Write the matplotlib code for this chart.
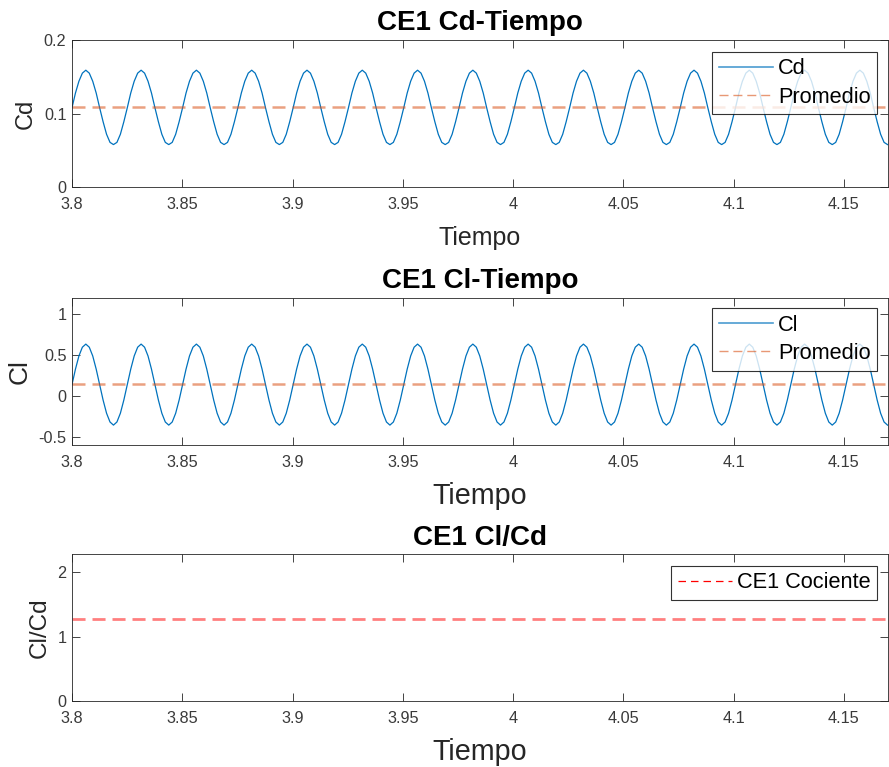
import numpy as np
import matplotlib
matplotlib.use("Agg")
import matplotlib.pyplot as plt
from matplotlib.lines import Line2D

plt.rcParams['font.family'] = ['Liberation Sans', 'DejaVu Sans']

# ---------------- data ----------------
t_start = 3.8
sample_step = 0.0015669          # 16 samples per oscillation period (~0.02507 s)

# Cd samples, one row per oscillation cycle
cd_values = [
    0.108, 0.128, 0.144, 0.155, 0.159, 0.155, 0.144, 0.128, 0.108, 0.089, 0.072, 0.061, 0.058, 0.061, 0.072, 0.089,
    0.108, 0.128, 0.144, 0.155, 0.159, 0.155, 0.144, 0.128, 0.108, 0.089, 0.072, 0.061, 0.058, 0.061, 0.072, 0.089,
    0.108, 0.128, 0.144, 0.155, 0.159, 0.155, 0.144, 0.128, 0.108, 0.089, 0.072, 0.061, 0.058, 0.061, 0.072, 0.089,
    0.108, 0.128, 0.144, 0.155, 0.159, 0.155, 0.144, 0.128, 0.108, 0.089, 0.072, 0.061, 0.058, 0.061, 0.072, 0.089,
    0.108, 0.128, 0.144, 0.155, 0.159, 0.155, 0.144, 0.128, 0.108, 0.089, 0.072, 0.061, 0.058, 0.061, 0.072, 0.089,
    0.108, 0.128, 0.144, 0.155, 0.159, 0.155, 0.144, 0.128, 0.108, 0.089, 0.072, 0.061, 0.058, 0.061, 0.072, 0.089,
    0.108, 0.128, 0.144, 0.155, 0.159, 0.155, 0.144, 0.128, 0.108, 0.089, 0.072, 0.061, 0.058, 0.061, 0.072, 0.089,
    0.108, 0.128, 0.144, 0.155, 0.159, 0.155, 0.144, 0.128, 0.108, 0.089, 0.072, 0.061, 0.058, 0.061, 0.072, 0.089,
    0.108, 0.128, 0.144, 0.155, 0.159, 0.155, 0.144, 0.128, 0.108, 0.089, 0.072, 0.061, 0.058, 0.061, 0.072, 0.089,
    0.108, 0.128, 0.144, 0.155, 0.159, 0.155, 0.144, 0.128, 0.108, 0.089, 0.072, 0.061, 0.058, 0.061, 0.072, 0.089,
    0.108, 0.128, 0.144, 0.155, 0.159, 0.155, 0.144, 0.128, 0.108, 0.089, 0.072, 0.061, 0.058, 0.061, 0.072, 0.089,
    0.108, 0.128, 0.144, 0.155, 0.159, 0.155, 0.144, 0.128, 0.108, 0.089, 0.072, 0.061, 0.058, 0.061, 0.072, 0.089,
    0.108, 0.128, 0.144, 0.155, 0.159, 0.155, 0.144, 0.128, 0.108, 0.089, 0.072, 0.061, 0.058, 0.061, 0.072, 0.089,
    0.108, 0.128, 0.144, 0.155, 0.159, 0.155, 0.144, 0.128, 0.108, 0.089, 0.072, 0.061, 0.058, 0.061, 0.072, 0.089,
    0.108, 0.128, 0.144, 0.155, 0.159, 0.155, 0.144, 0.128, 0.108, 0.089, 0.072, 0.061, 0.058,
]

# Cl samples, one row per oscillation cycle
cl_values = [
    0.138, 0.327, 0.488, 0.595, 0.633, 0.595, 0.488, 0.327, 0.138, -0.051, -0.212, -0.319, -0.357, -0.319, -0.212, -0.051,
    0.138, 0.327, 0.488, 0.595, 0.633, 0.595, 0.488, 0.327, 0.138, -0.051, -0.212, -0.319, -0.357, -0.319, -0.212, -0.051,
    0.138, 0.327, 0.488, 0.595, 0.633, 0.595, 0.488, 0.327, 0.138, -0.051, -0.212, -0.319, -0.357, -0.319, -0.212, -0.051,
    0.138, 0.327, 0.488, 0.595, 0.633, 0.595, 0.488, 0.327, 0.138, -0.051, -0.212, -0.319, -0.357, -0.319, -0.212, -0.051,
    0.138, 0.327, 0.488, 0.595, 0.633, 0.595, 0.488, 0.327, 0.138, -0.051, -0.212, -0.319, -0.357, -0.319, -0.212, -0.051,
    0.138, 0.327, 0.488, 0.595, 0.633, 0.595, 0.488, 0.327, 0.138, -0.051, -0.212, -0.319, -0.357, -0.319, -0.212, -0.051,
    0.138, 0.327, 0.488, 0.595, 0.633, 0.595, 0.488, 0.327, 0.138, -0.051, -0.212, -0.319, -0.357, -0.319, -0.212, -0.051,
    0.138, 0.327, 0.488, 0.595, 0.633, 0.595, 0.488, 0.327, 0.138, -0.051, -0.212, -0.319, -0.357, -0.319, -0.212, -0.051,
    0.138, 0.327, 0.488, 0.595, 0.633, 0.595, 0.488, 0.327, 0.138, -0.051, -0.212, -0.319, -0.357, -0.319, -0.212, -0.051,
    0.138, 0.327, 0.488, 0.595, 0.633, 0.595, 0.488, 0.327, 0.138, -0.051, -0.212, -0.319, -0.357, -0.319, -0.212, -0.051,
    0.138, 0.327, 0.488, 0.595, 0.633, 0.595, 0.488, 0.327, 0.138, -0.051, -0.212, -0.319, -0.357, -0.319, -0.212, -0.051,
    0.138, 0.327, 0.488, 0.595, 0.633, 0.595, 0.488, 0.327, 0.138, -0.051, -0.212, -0.319, -0.357, -0.319, -0.212, -0.051,
    0.138, 0.327, 0.488, 0.595, 0.633, 0.595, 0.488, 0.327, 0.138, -0.051, -0.212, -0.319, -0.357, -0.319, -0.212, -0.051,
    0.138, 0.327, 0.488, 0.595, 0.633, 0.595, 0.488, 0.327, 0.138, -0.051, -0.212, -0.319, -0.357, -0.319, -0.212, -0.051,
    0.138, 0.327, 0.488, 0.595, 0.633, 0.595, 0.488, 0.327, 0.138, -0.051, -0.212, -0.319, -0.357,
]

cd_mean = 0.109
cl_mean = 0.144
ratio_value = 1.28

x_limits = (3.8, 4.17)
x_ticks = [3.8, 3.85, 3.9, 3.95, 4.0, 4.05, 4.1, 4.15]
x_tick_labels = ['3.8', '3.85', '3.9', '3.95', '4', '4.05', '4.1', '4.15']
cd_ticks = [0, 0.1, 0.2]
cd_tick_labels = ['0', '0.1', '0.2']
cl_ticks = [-0.5, 0, 0.5, 1]
cl_tick_labels = ['-0.5', '0', '0.5', '1']
ratio_ticks = [0, 1, 2]
ratio_tick_labels = ['0', '1', '2']

# ---------------- styling ----------------
BLUE = '#0072BD'
ORANGE = '#D95319'
AXC = '#262626'

t_cd = t_start + np.arange(len(cd_values)) * sample_step
t_cl = t_start + np.arange(len(cl_values)) * sample_step

W, H = 889, 767
fig = plt.figure(figsize=(W / 100, H / 100), dpi=100)

def px_axes(left, top, right, bottom):
    return fig.add_axes([left / W, 1 - bottom / H, (right - left) / W, (bottom - top) / H])

ax1 = px_axes(72, 40, 888, 187.3)
ax2 = px_axes(72, 297.7, 888, 445)
ax3 = px_axes(72, 554.3, 888, 701)

def style(ax, yticks, ylabels):
    ax.set_xlim(*x_limits)
    ax.set_xticks(x_ticks)
    ax.set_xticklabels(x_tick_labels)
    ax.set_yticks(yticks)
    ax.set_yticklabels(ylabels)
    ax.tick_params(direction='in', length=5.8, width=0.6, top=True, right=True,
                   color=AXC, labelcolor='#3a3a3a', labelsize=11.7)
    ax.tick_params(axis='x', pad=7)
    ax.tick_params(axis='y', pad=4)
    for s in ax.spines.values():
        s.set_color(AXC)
        s.set_linewidth(0.6)

def legend(ax, handles, labels, top_frac):
    leg = ax.legend(handles, labels, loc='upper right', bbox_to_anchor=(0.9865, top_frac),
                    borderaxespad=0, fontsize=15.7, frameon=True, fancybox=False,
                    edgecolor='black', handlelength=2.5, handletextpad=0.22,
                    borderpad=0.3, labelspacing=0.34)
    leg.get_frame().set_linewidth(0.8)
    return leg

prom_kw = dict(color=ORANGE, lw=1.8, alpha=0.55, dashes=(5.2, 2.8))

# ---- Cd ----
ax1.plot(t_cd, cd_values, color=BLUE, lw=0.9)
ax1.axhline(cd_mean, **prom_kw)
ax1.set_ylim(0, 0.2)
style(ax1, cd_ticks, cd_tick_labels)
ax1.set_title('CE1 Cd-Tiempo', fontsize=20, fontweight='bold', pad=7)
ax1.set_xlabel('Tiempo', fontsize=18, color=AXC, labelpad=10)
ax1.set_ylabel('Cd', fontsize=17, color=AXC, labelpad=5)
legend(ax1,
       [Line2D([], [], color=BLUE, lw=1.2, alpha=0.7),
        Line2D([], [], color=ORANGE, lw=1.0, alpha=0.6, dashes=(6.5, 3.5))],
       ['Cd', 'Promedio'], 0.9205)

# ---- Cl ----
ax2.plot(t_cl, cl_values, color=BLUE, lw=0.9)
ax2.axhline(cl_mean, **prom_kw)
ax2.set_ylim(-0.6, 1.2)
style(ax2, cl_ticks, cl_tick_labels)
ax2.set_title('CE1 Cl-Tiempo', fontsize=20, fontweight='bold', pad=7)
ax2.set_xlabel('Tiempo', fontsize=20.7, color=AXC, labelpad=9)
ax2.set_ylabel('Cl', fontsize=19, color=AXC, labelpad=5)
legend(ax2,
       [Line2D([], [], color=BLUE, lw=1.2, alpha=0.7),
        Line2D([], [], color=ORANGE, lw=1.0, alpha=0.6, dashes=(6.5, 3.5))],
       ['Cl', 'Promedio'], 0.930)

# ---- Cl/Cd ----
ax3.axhline(ratio_value, color='red', lw=2.0, alpha=0.5, dashes=(4.7, 2.5))
ax3.set_ylim(0, ratio_value + 1)
style(ax3, ratio_ticks, ratio_tick_labels)
ax3.set_title('CE1 Cl/Cd', fontsize=20, fontweight='bold', pad=7)
ax3.set_xlabel('Tiempo', fontsize=20.7, color=AXC, labelpad=9)
ax3.set_ylabel('Cl/Cd', fontsize=17.5, color=AXC, labelpad=5)
legend(ax3,
       [Line2D([], [], color='red', lw=0.9, dashes=(6, 4))],
       ['CE1 Cociente'], 0.922)

fig.savefig('out.png', dpi=100, facecolor='white')
